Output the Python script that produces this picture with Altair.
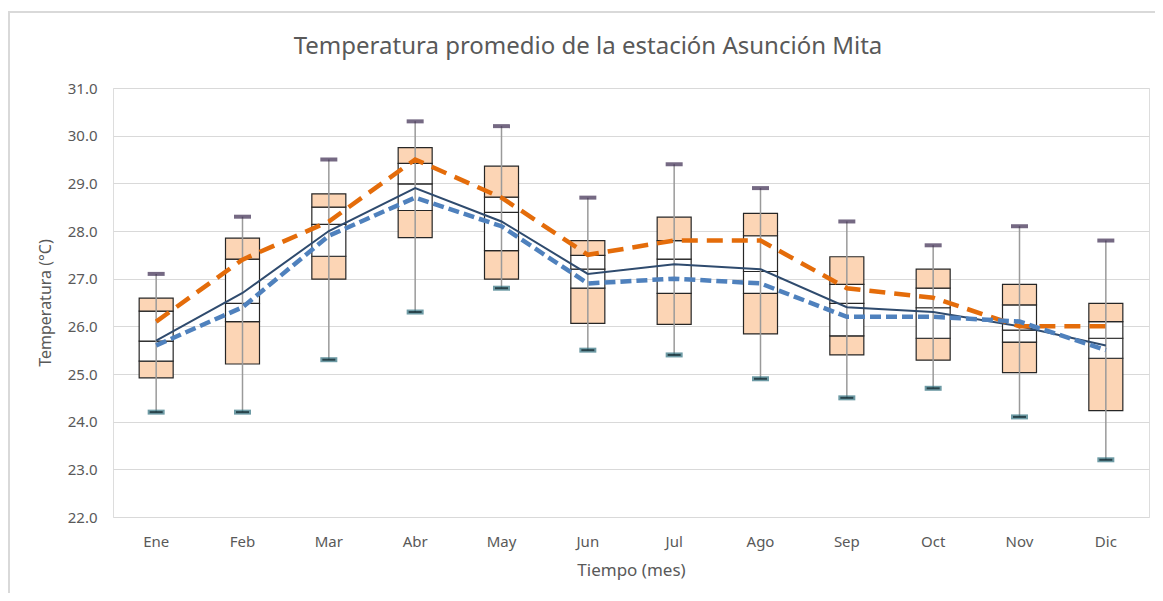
import altair as alt
import pandas as pd

months = ["Ene", "Feb", "Mar", "Abr", "May", "Jun", "Jul", "Ago", "Sep", "Oct", "Nov", "Dic"]
t_min = [24.2, 24.2, 25.3, 26.3, 26.8, 25.5, 25.4, 24.9, 24.5, 24.7, 24.1, 23.2]
t_max = [27.1, 28.3, 29.5, 30.3, 30.2, 28.7, 29.4, 28.9, 28.2, 27.7, 28.1, 27.8]
b0 = [24.92, 25.21, 26.99, 27.86, 26.99, 26.06, 26.04, 25.84, 25.40, 25.29, 25.03, 24.23]
b1 = [25.27, 26.10, 27.47, 28.43, 27.59, 26.80, 26.69, 26.69, 25.80, 25.75, 25.67, 25.33]
b2 = [25.69, 26.48, 28.14, 28.99, 28.39, 27.20, 27.41, 27.15, 26.48, 26.39, 25.92, 25.75]
b3 = [26.32, 27.41, 28.50, 29.42, 28.71, 27.49, 27.80, 27.90, 26.88, 26.80, 26.45, 26.10]
b4 = [26.59, 27.85, 28.78, 29.75, 29.36, 27.80, 28.29, 28.37, 27.46, 27.20, 26.88, 26.48]
navy_line = [25.7, 26.7, 28.0, 28.9, 28.2, 27.1, 27.3, 27.2, 26.4, 26.3, 26.0, 25.6]
orange_line = [26.1, 27.4, 28.2, 29.5, 28.7, 27.5, 27.8, 27.8, 26.8, 26.6, 26.0, 26.0]
blue_line = [25.6, 26.4, 27.9, 28.7, 28.1, 26.9, 27.0, 26.9, 26.2, 26.2, 26.1, 25.5]
title_text = "Temperatura promedio de la estación Asunción Mita"

FONT = "Noto Sans"
GRAY_TXT = "#595959"

seg_rows = []
bounds = [b0, b1, b2, b3, b4]
seg_fill = ["#fcd5b5", "#ffffff", "#ffffff", "#fcd5b5"]
for i, m in enumerate(months):
    for s in range(4):
        seg_rows.append({"mes": m, "lo": bounds[s][i], "hi": bounds[s + 1][i], "fill": seg_fill[s], "seg": s})
seg_df = pd.DataFrame(seg_rows)

df = pd.DataFrame({
    "mes": months, "tmin": t_min, "tmax": t_max,
    "navy": navy_line, "orange": orange_line, "blue": blue_line,
})

x_enc = alt.X("mes:N", sort=months,
              scale=alt.Scale(paddingInner=0, paddingOuter=0),
              axis=alt.Axis(title="Tiempo (mes)", labelAngle=0, ticks=False, domain=False,
                            labelFont=FONT, labelFontSize=15, labelColor=GRAY_TXT, labelPadding=17,
                            titleFont=FONT, titleFontSize=17, titleColor=GRAY_TXT, titleFontWeight="normal",
                            titlePadding=13, grid=False))
y_scale = alt.Scale(domain=[22, 31], nice=False, zero=False)
y_axis = alt.Axis(title="Temperatura (°C)", values=[22, 23, 24, 25, 26, 27, 28, 29, 30, 31], format=".1f",
                  ticks=False, domain=False, grid=True, gridColor="#d9d9d9", gridWidth=1,
                  labelFont=FONT, labelFontSize=15, labelColor=GRAY_TXT, labelPadding=16,
                  titleFont=FONT, titleFontSize=16, titleColor=GRAY_TXT, titleFontWeight="normal",
                  titlePadding=14)

base = alt.Chart(df)
one = pd.DataFrame({"t": [title_text]})

frame = alt.Chart(one).mark_rect(fill="transparent", stroke="#d9d9d9", strokeWidth=2).encode(
    x=alt.value(-104), x2=alt.value(1100), y=alt.value(-76), y2=alt.value(560))

title = alt.Chart(one).mark_text(font=FONT, fontSize=24, color=GRAY_TXT, align="center",
                                 baseline="alphabetic").encode(
    text="t:N", x=alt.value(475), y=alt.value(-34))

boxes = alt.Chart(seg_df).mark_bar(size=34, stroke="#262626", strokeWidth=1.2).encode(
    x=x_enc,
    y=alt.Y("lo:Q", scale=y_scale, axis=y_axis),
    y2="hi:Q",
    fill=alt.Fill("fill:N", scale=None),
)

whisk = base.mark_rule(color="#9a9a9a", strokeWidth=1.5).encode(
    x=alt.X("mes:N", sort=months), y=alt.Y("tmin:Q", scale=y_scale), y2="tmax:Q")

cap_max = base.mark_tick(size=17, thickness=4, color="#3a2a4e").encode(
    x=alt.X("mes:N", sort=months), y=alt.Y("tmax:Q", scale=y_scale))
cap_min = base.mark_tick(size=17, thickness=5, color="#31707f").encode(
    x=alt.X("mes:N", sort=months), y=alt.Y("tmin:Q", scale=y_scale))
cap_min_in = base.mark_tick(size=13, thickness=2, color="#0b1f26").encode(
    x=alt.X("mes:N", sort=months), y=alt.Y("tmin:Q", scale=y_scale))

navy = base.mark_line(color="#2f4b6e", strokeWidth=2).encode(
    x=alt.X("mes:N", sort=months), y=alt.Y("navy:Q", scale=y_scale))
orange = base.mark_line(color="#e46c0a", strokeWidth=4.5, strokeDash=[16, 9]).encode(
    x=alt.X("mes:N", sort=months), y=alt.Y("orange:Q", scale=y_scale))
blue = base.mark_line(color="#4f81bd", strokeWidth=4.5, strokeDash=[11, 5]).encode(
    x=alt.X("mes:N", sort=months), y=alt.Y("blue:Q", scale=y_scale))

chart = alt.layer(frame, title, boxes, whisk, cap_max, cap_min, cap_min_in, navy, orange, blue).properties(
    width=1036, height=429,
    autosize=alt.AutoSizeParams(type="none"),
    padding={"left": 105, "top": 80, "right": 6, "bottom": 76},
).configure_view(stroke=None).configure(background="white")

chart.save("out.html", embed_options={"renderer": "svg", "actions": False})
